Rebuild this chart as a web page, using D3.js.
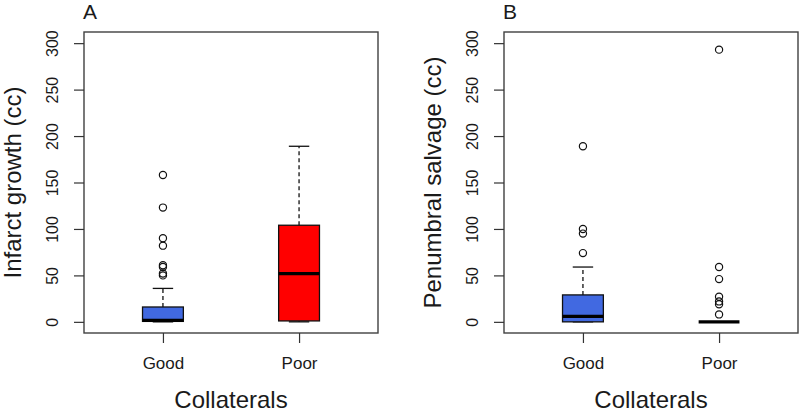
<!DOCTYPE html>
<html>
<head>
<meta charset="utf-8">
<script src="https://cdn.jsdelivr.net/npm/d3@7"></script>
<style>
  html, body { margin: 0; padding: 0; background: #fff; }
  svg { display: block; }
  text { font-family: "Liberation Sans", Arial, sans-serif; fill: #1a1a1a; }
</style>
</head>
<body>
<svg id="chart" width="800" height="413"></svg>
<script>
// ---- Data ----
const categories = ["Good", "Poor"];
const yTicks = [0, 50, 100, 150, 200, 250, 300];
const boxColors = ["#4169E1", "#FF0000"];

// Panel A: Infarct growth (cc)
const infarctQ1 = [0.5, 1];
const infarctMedian = [1.5, 52];
const infarctQ3 = [16, 104];
const infarctWhiskerLow = [0, 0];
const infarctWhiskerHigh = [36, 189];
const infarctOutliers = [[50, 52, 59, 61, 82, 90, 123, 158], []];

// Panel B: Penumbral salvage (cc)
const salvageQ1 = [0, 0];
const salvageMedian = [6, 0];
const salvageQ3 = [29, 0];
const salvageWhiskerLow = [0, 0];
const salvageWhiskerHigh = [59, 0];
const salvageOutliers = [[74, 95, 100, 189], [8, 19, 22, 27, 46, 59, 293]];

const panels = [
  { letter: "A", ylabel: "Infarct growth (cc)", left: 84,
    q1: infarctQ1, med: infarctMedian, q3: infarctQ3,
    wlo: infarctWhiskerLow, whi: infarctWhiskerHigh, out: infarctOutliers,
    colors: boxColors },
  { letter: "B", ylabel: "Penumbral salvage (cc)", left: 504,
    q1: salvageQ1, med: salvageMedian, q3: salvageQ3,
    wlo: salvageWhiskerLow, whi: salvageWhiskerHigh, out: salvageOutliers,
    colors: [boxColors[0], boxColors[0]] }
];

// ---- Layout ----
const svg = d3.select("#chart");
const plotW = 294, plotTop = 32, plotBottom = 333;

const y = d3.scaleLinear().domain([-12, 312]).range([plotBottom, plotTop]);

panels.forEach(p => {
  const g = svg.append("g");
  const x = d3.scalePoint().domain(categories)
    .range([p.left, p.left + plotW]).padding(0.58);
  const bw = x.step() * 0.3;

  // frame
  g.append("rect")
    .attr("x", p.left).attr("y", plotTop)
    .attr("width", plotW).attr("height", plotBottom - plotTop)
    .attr("fill", "none").attr("stroke", "#404040").attr("stroke-width", 1.4);

  // y axis
  const yAxis = d3.axisLeft(y).tickValues(yTicks).tickSize(10).tickSizeOuter(0).tickPadding(0);
  const ya = g.append("g").attr("transform", `translate(${p.left},0)`).call(yAxis);
  ya.select(".domain").remove();
  ya.selectAll(".tick line").attr("stroke", "#333").attr("stroke-width", 1.2);
  ya.selectAll(".tick text")
    .attr("transform", "rotate(-90)")
    .attr("x", 0).attr("y", -32).attr("dy", "0.35em")
    .attr("text-anchor", "middle")
    .style("font-family", '"Liberation Sans", Arial, sans-serif')
    .style("font-size", "16px").attr("fill", "#2a2a2a");

  // x axis
  const xAxis = d3.axisBottom(x).tickSize(10).tickSizeOuter(0).tickPadding(0);
  const xa = g.append("g").attr("transform", `translate(0,${plotBottom})`).call(xAxis);
  xa.select(".domain").remove();
  xa.selectAll(".tick line").attr("stroke", "#333").attr("stroke-width", 1.2);
  xa.selectAll(".tick text")
    .attr("y", 36).attr("dy", 0)
    .style("font-family", '"Liberation Sans", Arial, sans-serif')
    .style("font-size", "17px").attr("fill", "#1a1a1a");

  categories.forEach((c, i) => {
    const cx = x(c);
    // whiskers (dashed)
    g.append("line").attr("x1", cx).attr("x2", cx)
      .attr("y1", y(p.q3[i])).attr("y2", y(p.whi[i]))
      .attr("stroke", "#111").attr("stroke-width", 1.3).attr("stroke-dasharray", "4,3");
    g.append("line").attr("x1", cx).attr("x2", cx)
      .attr("y1", y(p.q1[i])).attr("y2", y(p.wlo[i]))
      .attr("stroke", "#111").attr("stroke-width", 1.3).attr("stroke-dasharray", "4,3");
    // caps
    [p.whi[i], p.wlo[i]].forEach(v => {
      g.append("line").attr("x1", cx - bw / 4).attr("x2", cx + bw / 4)
        .attr("y1", y(v)).attr("y2", y(v))
        .attr("stroke", "#111").attr("stroke-width", 1.3);
    });
    // box
    g.append("rect")
      .attr("x", cx - bw / 2).attr("width", bw)
      .attr("y", y(p.q3[i])).attr("height", Math.max(0, y(p.q1[i]) - y(p.q3[i])))
      .attr("fill", p.colors[i]).attr("stroke", "#111").attr("stroke-width", 1.3);
    // median
    g.append("line").attr("x1", cx - bw / 2).attr("x2", cx + bw / 2)
      .attr("y1", y(p.med[i])).attr("y2", y(p.med[i]))
      .attr("stroke", "#000").attr("stroke-width", 3.2);
    // outliers
    g.selectAll(null).data(p.out[i]).enter().append("circle")
      .attr("cx", cx).attr("cy", d => y(d)).attr("r", 3.6)
      .attr("fill", "none").attr("stroke", "#111").attr("stroke-width", 1.2);
  });

  // panel letter
  g.append("text").attr("x", p.left - 1).attr("y", 19)
    .style("font-size", "21px").text(p.letter);

  // x label
  g.append("text").attr("x", p.left + plotW / 2).attr("y", 408)
    .attr("text-anchor", "middle").style("font-size", "24px").text("Collaterals");

  // y label
  g.append("text")
    .attr("transform", `translate(${p.left - 63},${y(150)}) rotate(-90)`)
    .attr("text-anchor", "middle").style("font-size", "24px").text(p.ylabel);
});
</script>
</body>
</html>
